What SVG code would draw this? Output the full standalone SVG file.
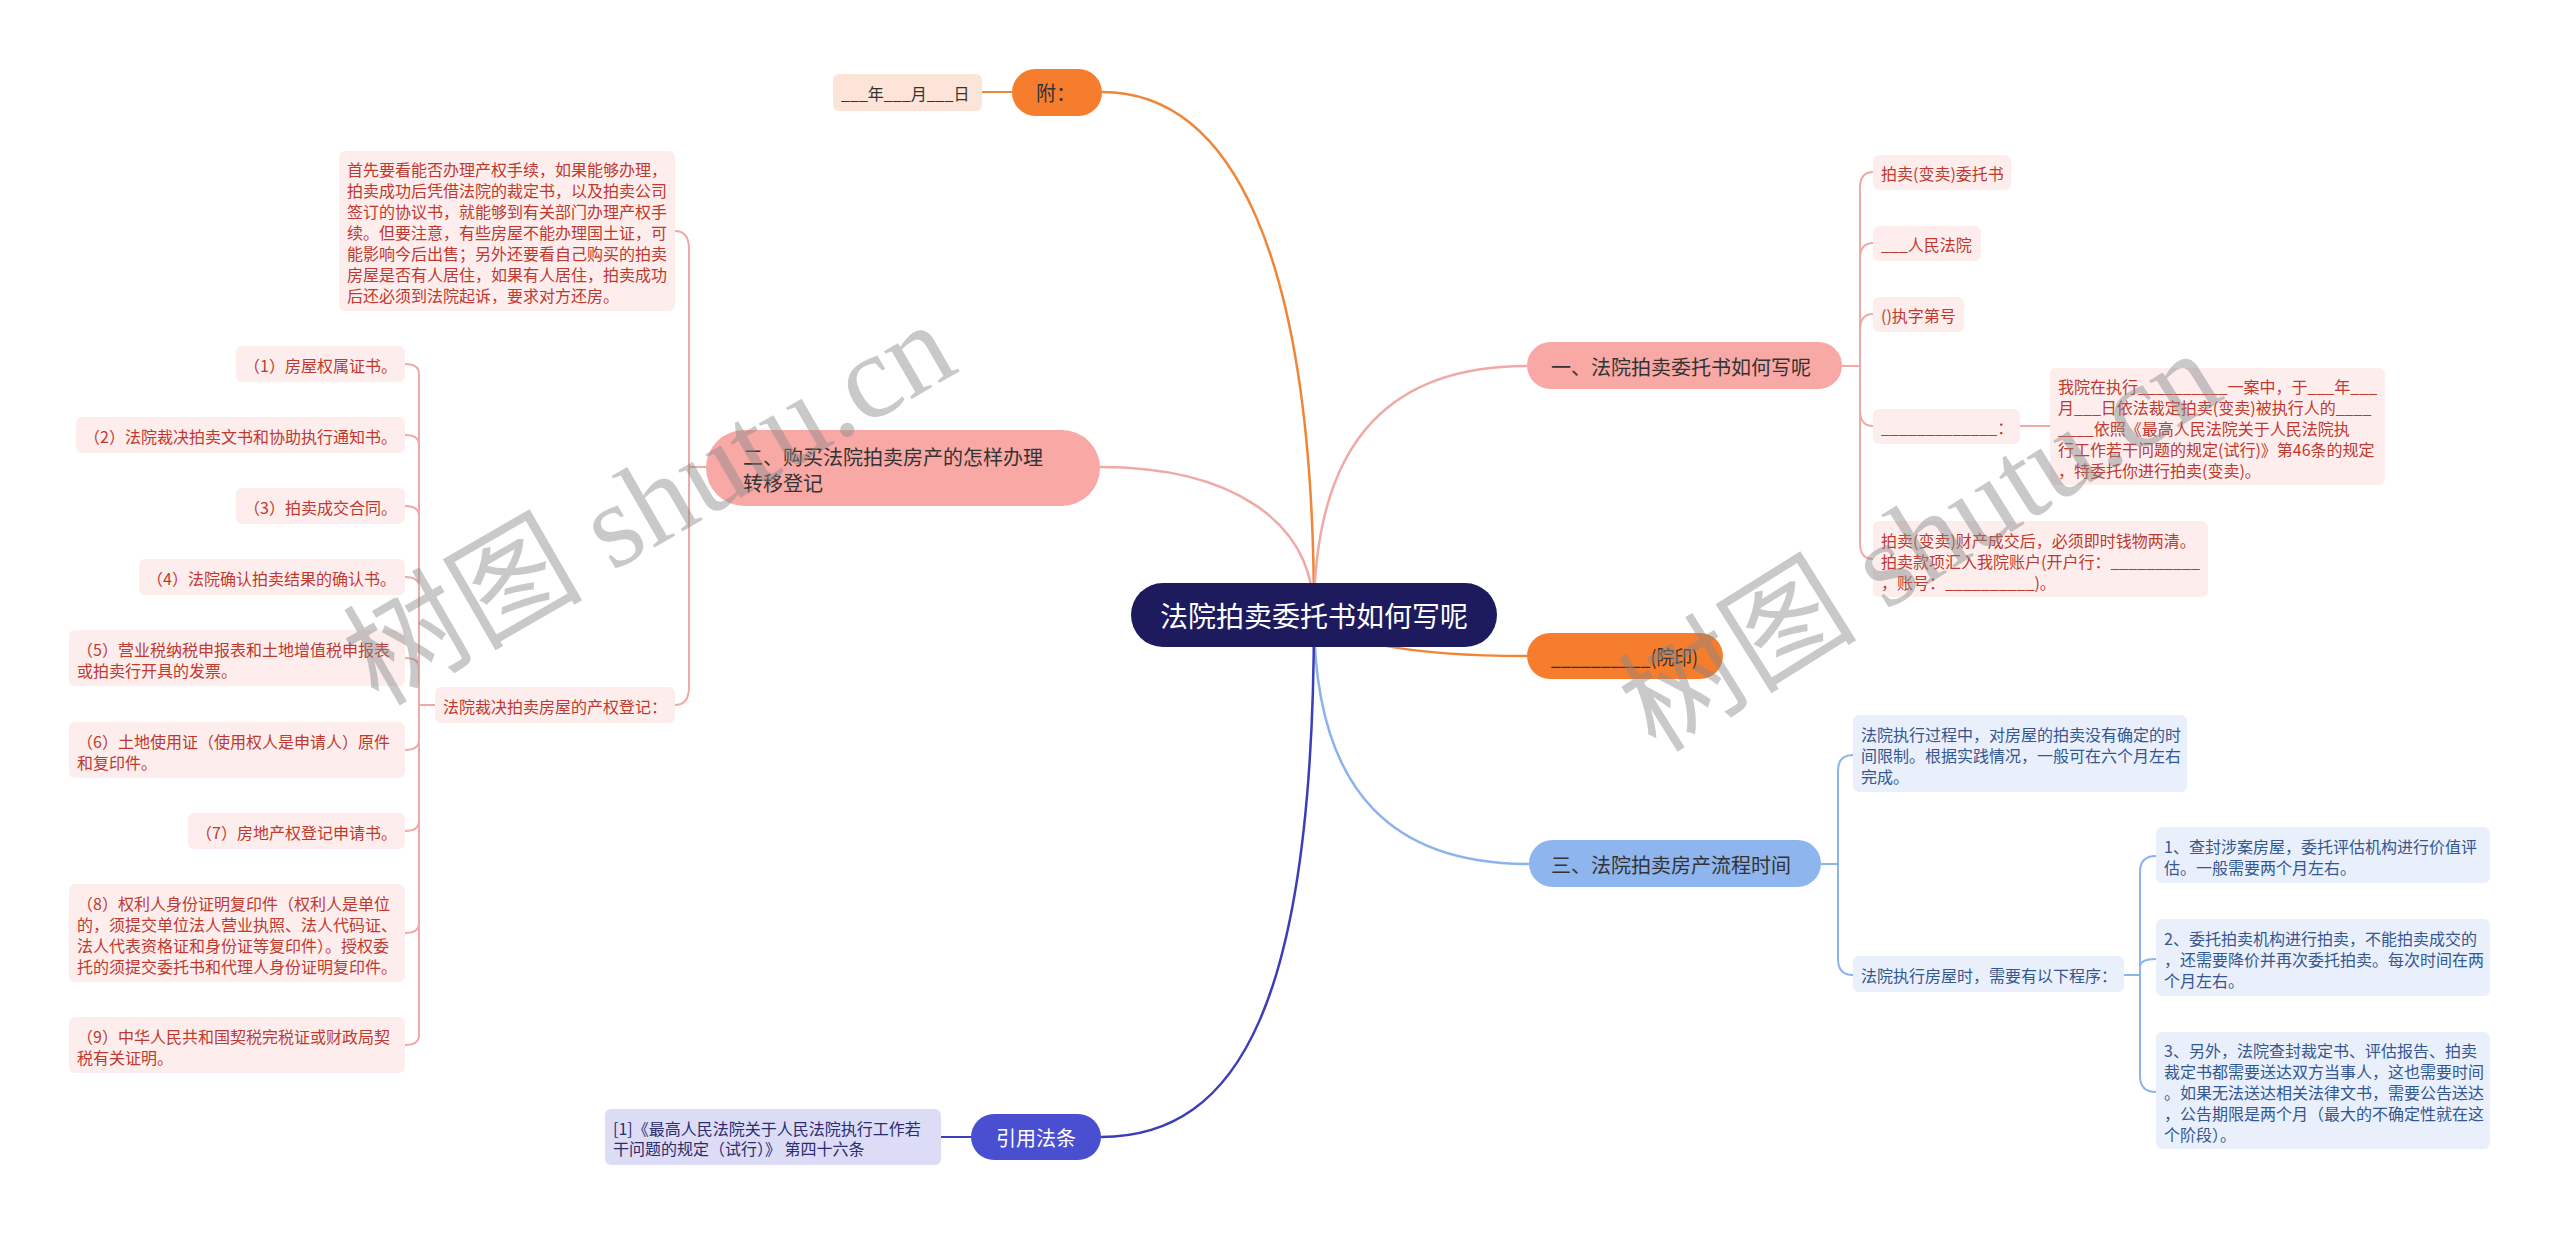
<svg xmlns="http://www.w3.org/2000/svg" width="2560" height="1234" viewBox="0 0 2560 1234">
<style>
text{font-family:"Noto Sans CJK SC","Noto Sans",sans-serif;dominant-baseline:central}
.ln{fill:none;stroke-width:2}
.main{stroke-width:2.5}
.or{stroke:#f08536}
.pk{stroke:#efaaa7}
.bl{stroke:#8db3ec}
.nv{stroke:#3a3eb8}
.t16{font-size:16px}
.t20{font-size:20px}
.pkbox{fill:#fdeeed}
.pktx{fill:#c0392f}
.blbox{fill:#e9f0fc}
.bltx{fill:#34578f}
.pkmain{fill:#f8a9a6}
.blmain{fill:#8fb5ef}
.ormain{fill:#f67d2e}
.dk{fill:#333333}
.wm{font-family:"Liberation Serif","Noto Sans CJK SC",serif;font-size:120px;fill:#888888;opacity:0.45;dominant-baseline:alphabetic}
</style>
<rect width="2560" height="1234" fill="#ffffff"/>

<g id="connectors">
<path class="ln main or" d="M1314,615 C1314,250 1230,92 1102,92"/>
<path class="ln or" d="M1012,92 H982"/>
<path class="ln main pk" d="M1314,615 C1314,520 1230,467 1100,467"/>
<path class="ln main pk" d="M1314,615 C1314,430 1400,366 1527,366"/>
<path class="ln main or" d="M1314,615 C1340,645 1420,656 1527,656"/>
<path class="ln main bl" d="M1314,615 C1314,800 1400,864 1529,864"/>
<path class="ln main nv" d="M1314,615 C1314,1000 1240,1137 1101,1137"/>
<path class="ln nv" d="M971,1137 H941"/>
<path class="ln pk" d="M706,467 H689 V249 Q689,231 675,231"/>
<path class="ln pk" d="M706,467 H689 V687 Q689,705 675,705"/>
<path class="ln pk" d="M435,705 H419 V374 Q419,364 405,364"/>
<path class="ln pk" d="M435,705 H419 V445 Q419,435 405,435"/>
<path class="ln pk" d="M435,705 H419 V516 Q419,506 405,506"/>
<path class="ln pk" d="M435,705 H419 V587 Q419,577 405,577"/>
<path class="ln pk" d="M435,705 H419 V668 Q419,658 405,658"/>
<path class="ln pk" d="M435,705 H419 V740 Q419,750 405,750"/>
<path class="ln pk" d="M435,705 H419 V821 Q419,831 405,831"/>
<path class="ln pk" d="M435,705 H419 V923 Q419,933 405,933"/>
<path class="ln pk" d="M435,705 H419 V1035 Q419,1045 405,1045"/>
<path class="ln pk" d="M1842,366 H1860 V188 Q1860,172 1873,172"/>
<path class="ln pk" d="M1842,366 H1860 V259 Q1860,243 1873,243"/>
<path class="ln pk" d="M1842,366 H1860 V330 Q1860,314 1873,314"/>
<path class="ln pk" d="M1842,366 H1860 V410 Q1860,426 1873,426"/>
<path class="ln pk" d="M1842,366 H1860 V543 Q1860,559 1873,559"/>
<path class="ln pk" d="M2020,426 H2050"/>
<path class="ln bl" d="M1821,864 H1838 V771 Q1838,755 1853,755"/>
<path class="ln bl" d="M1821,864 H1838 V959 Q1838,975 1853,975"/>
<path class="ln bl" d="M2124,975 H2140 V872 Q2140,856 2156,856"/>
<path class="ln bl" d="M2124,975 H2140 V967 Q2140,959 2156,959"/>
<path class="ln bl" d="M2124,975 H2140 V1076 Q2140,1092 2156,1092"/>
</g>

<g id="root">
<rect x="1131" y="583" width="366" height="64" rx="32" fill="#1d1b5d"/>
<text x="1314" y="615" font-size="28" text-anchor="middle" fill="#ffffff">法院拍卖委托书如何写呢</text>
</g>

<g id="fu">
<rect x="1012" y="69" width="90" height="47" rx="23.5" class="ormain"/>
<text x="1036" y="92.5" class="t20 dk">附：</text>
</g>
<g id="fu-date">
<rect x="833" y="74" width="149" height="37" rx="6" fill="#fde4d8"/>
<text x="841" y="93" class="t16 dk">___年___月___日</text>
</g>

<g id="yinzhang">
<rect x="1527" y="633" width="196" height="46" rx="23" class="ormain"/>
<text x="1551" y="656" class="t20 dk" textLength="147" lengthAdjust="spacingAndGlyphs">__________(院印)</text>
</g>

<g id="b2">
<rect x="706" y="430" width="394" height="76" rx="38" class="pkmain"/>
<text class="t20 dk"><tspan x="743" y="456">二、购买法院拍卖房产的怎样办理</tspan><tspan x="743" y="482">转移登记</tspan></text>
</g>
<g id="b2-note">
<rect x="339" y="151" width="336" height="160" rx="6" class="pkbox"/>
<text class="t16 pktx"><tspan x="347" y="169">首先要看能否办理产权手续，如果能够办理，</tspan><tspan x="347" y="190">拍卖成功后凭借法院的裁定书，以及拍卖公司</tspan><tspan x="347" y="211">签订的协议书，就能够到有关部门办理产权手</tspan><tspan x="347" y="232">续。但要注意，有些房屋不能办理国土证，可</tspan><tspan x="347" y="253">能影响今后出售；另外还要看自己购买的拍卖</tspan><tspan x="347" y="274">房屋是否有人居住，如果有人居住，拍卖成功</tspan><tspan x="347" y="295">后还必须到法院起诉，要求对方还房。</tspan></text>
</g>
<g id="b2-reg">
<rect x="435" y="687" width="240" height="36" rx="6" class="pkbox"/>
<text x="443" y="706" class="t16 pktx">法院裁决拍卖房屋的产权登记：</text>
</g>
<g id="r1">
<rect x="236" y="346" width="169" height="36" rx="6" class="pkbox"/>
<text x="244" y="365" class="t16 pktx">（1）房屋权属证书。</text>
</g>
<g id="r2">
<rect x="76" y="417" width="329" height="36" rx="6" class="pkbox"/>
<text x="84" y="436" class="t16 pktx">（2）法院裁决拍卖文书和协助执行通知书。</text>
</g>
<g id="r3">
<rect x="236" y="488" width="169" height="36" rx="6" class="pkbox"/>
<text x="244" y="507" class="t16 pktx">（3）拍卖成交合同。</text>
</g>
<g id="r4">
<rect x="139" y="559" width="266" height="36" rx="6" class="pkbox"/>
<text x="147" y="578" class="t16 pktx">（4）法院确认拍卖结果的确认书。</text>
</g>
<g id="r5">
<rect x="69" y="630" width="336" height="56" rx="6" class="pkbox"/>
<text class="t16 pktx"><tspan x="77" y="648.5">（5）营业税纳税申报表和土地增值税申报表</tspan><tspan x="77" y="669.5">或拍卖行开具的发票。</tspan></text>
</g>
<g id="r6">
<rect x="69" y="722" width="336" height="56" rx="6" class="pkbox"/>
<text class="t16 pktx"><tspan x="77" y="740.5">（6）土地使用证（使用权人是申请人）原件</tspan><tspan x="77" y="761.5">和复印件。</tspan></text>
</g>
<g id="r7">
<rect x="188" y="813" width="217" height="36" rx="6" class="pkbox"/>
<text x="196" y="832" class="t16 pktx">（7）房地产权登记申请书。</text>
</g>
<g id="r8">
<rect x="69" y="884" width="336" height="98" rx="6" class="pkbox"/>
<text class="t16 pktx"><tspan x="77" y="902.5">（8）权利人身份证明复印件（权利人是单位</tspan><tspan x="77" y="923.5">的，须提交单位法人营业执照、法人代码证、</tspan><tspan x="77" y="944.5">法人代表资格证和身份证等复印件）。授权委</tspan><tspan x="77" y="965.5">托的须提交委托书和代理人身份证明复印件。</tspan></text>
</g>
<g id="r9">
<rect x="69" y="1017" width="336" height="56" rx="6" class="pkbox"/>
<text class="t16 pktx"><tspan x="77" y="1035.5">（9）中华人民共和国契税完税证或财政局契</tspan><tspan x="77" y="1056.5">税有关证明。</tspan></text>
</g>

<g id="b1">
<rect x="1527" y="342" width="315" height="47" rx="23.5" class="pkmain"/>
<text x="1551" y="366" class="t20 dk">一、法院拍卖委托书如何写呢</text>
</g>
<g id="b1-a">
<rect x="1873" y="155" width="138" height="35" rx="6" class="pkbox"/>
<text x="1881" y="173" class="t16 pktx">拍卖(变卖)委托书</text>
</g>
<g id="b1-b">
<rect x="1873" y="226" width="108" height="35" rx="6" class="pkbox"/>
<text x="1881" y="244" class="t16 pktx">___人民法院</text>
</g>
<g id="b1-c">
<rect x="1873" y="297" width="91" height="35" rx="6" class="pkbox"/>
<text x="1881" y="315" class="t16 pktx">()执字第号</text>
</g>
<g id="b1-d">
<rect x="1873" y="409" width="147" height="35" rx="6" class="pkbox"/>
<text x="1881" y="427" class="t16 pktx">_____________：</text>
</g>
<g id="b1-d1">
<rect x="2050" y="368" width="335" height="117" rx="6" class="pkbox"/>
<text class="t16 pktx"><tspan x="2058" y="386">我院在执行__________一案中，于___年___</tspan><tspan x="2058" y="407">月___日依法裁定拍卖(变卖)被执行人的____</tspan><tspan x="2058" y="428">____依照《最高人民法院关于人民法院执</tspan><tspan x="2058" y="449">行工作若干问题的规定(试行)》第46条的规定</tspan><tspan x="2058" y="470">，特委托你进行拍卖(变卖)。</tspan></text>
</g>
<g id="b1-e">
<rect x="1873" y="521" width="335" height="76" rx="6" class="pkbox"/>
<text class="t16 pktx"><tspan x="1881" y="539.5">拍卖(变卖)财产成交后，必须即时钱物两清。</tspan><tspan x="1881" y="560.5">拍卖款项汇入我院账户(开户行：__________</tspan><tspan x="1881" y="581.5">，账号：__________)。</tspan></text>
</g>

<g id="b3">
<rect x="1529" y="840" width="292" height="47" rx="23.5" class="blmain"/>
<text x="1551" y="864" class="t20 dk">三、法院拍卖房产流程时间</text>
</g>
<g id="b3-a">
<rect x="1853" y="715" width="334" height="77" rx="6" class="blbox"/>
<text class="t16 bltx"><tspan x="1861" y="734">法院执行过程中，对房屋的拍卖没有确定的时</tspan><tspan x="1861" y="755">间限制。根据实践情况，一般可在六个月左右</tspan><tspan x="1861" y="776">完成。</tspan></text>
</g>
<g id="b3-b">
<rect x="1853" y="956" width="271" height="36" rx="6" class="blbox"/>
<text x="1861" y="975" class="t16 bltx">法院执行房屋时，需要有以下程序：</text>
</g>
<g id="b3-b1">
<rect x="2156" y="827" width="334" height="56" rx="6" class="blbox"/>
<text class="t16 bltx"><tspan x="2164" y="846">1、查封涉案房屋，委托评估机构进行价值评</tspan><tspan x="2164" y="867">估。一般需要两个月左右。</tspan></text>
</g>
<g id="b3-b2">
<rect x="2156" y="919" width="334" height="77" rx="6" class="blbox"/>
<text class="t16 bltx"><tspan x="2164" y="938">2、委托拍卖机构进行拍卖，不能拍卖成交的</tspan><tspan x="2164" y="959">，还需要降价并再次委托拍卖。每次时间在两</tspan><tspan x="2164" y="980">个月左右。</tspan></text>
</g>
<g id="b3-b3">
<rect x="2156" y="1032" width="334" height="117" rx="6" class="blbox"/>
<text class="t16 bltx"><tspan x="2164" y="1050">3、另外，法院查封裁定书、评估报告、拍卖</tspan><tspan x="2164" y="1071">裁定书都需要送达双方当事人，这也需要时间</tspan><tspan x="2164" y="1092">。如果无法送达相关法律文书，需要公告送达</tspan><tspan x="2164" y="1113">，公告期限是两个月（最大的不确定性就在这</tspan><tspan x="2164" y="1134">个阶段）。</tspan></text>
</g>

<g id="law">
<rect x="971" y="1114" width="130" height="46" rx="23" fill="#4a4fd2"/>
<text x="1036" y="1137" class="t20" text-anchor="middle" fill="#ffffff">引用法条</text>
</g>
<g id="law-a">
<rect x="605" y="1109" width="336" height="56" rx="6" fill="#dcdcf7"/>
<text class="t16" fill="#2c2c6c"><tspan x="613" y="1128">[1]《最高人民法院关于人民法院执行工作若</tspan><tspan x="613" y="1148">干问题的规定（试行）》 第四十六条</tspan></text>
</g>

<g id="watermark">
<text class="wm" transform="translate(378,707) rotate(-30)">树图 shutu.cn</text>
<text class="wm" font-size="125" transform="translate(1656,754) rotate(-32)">树图 shutu.cn</text>
</g>
</svg>
